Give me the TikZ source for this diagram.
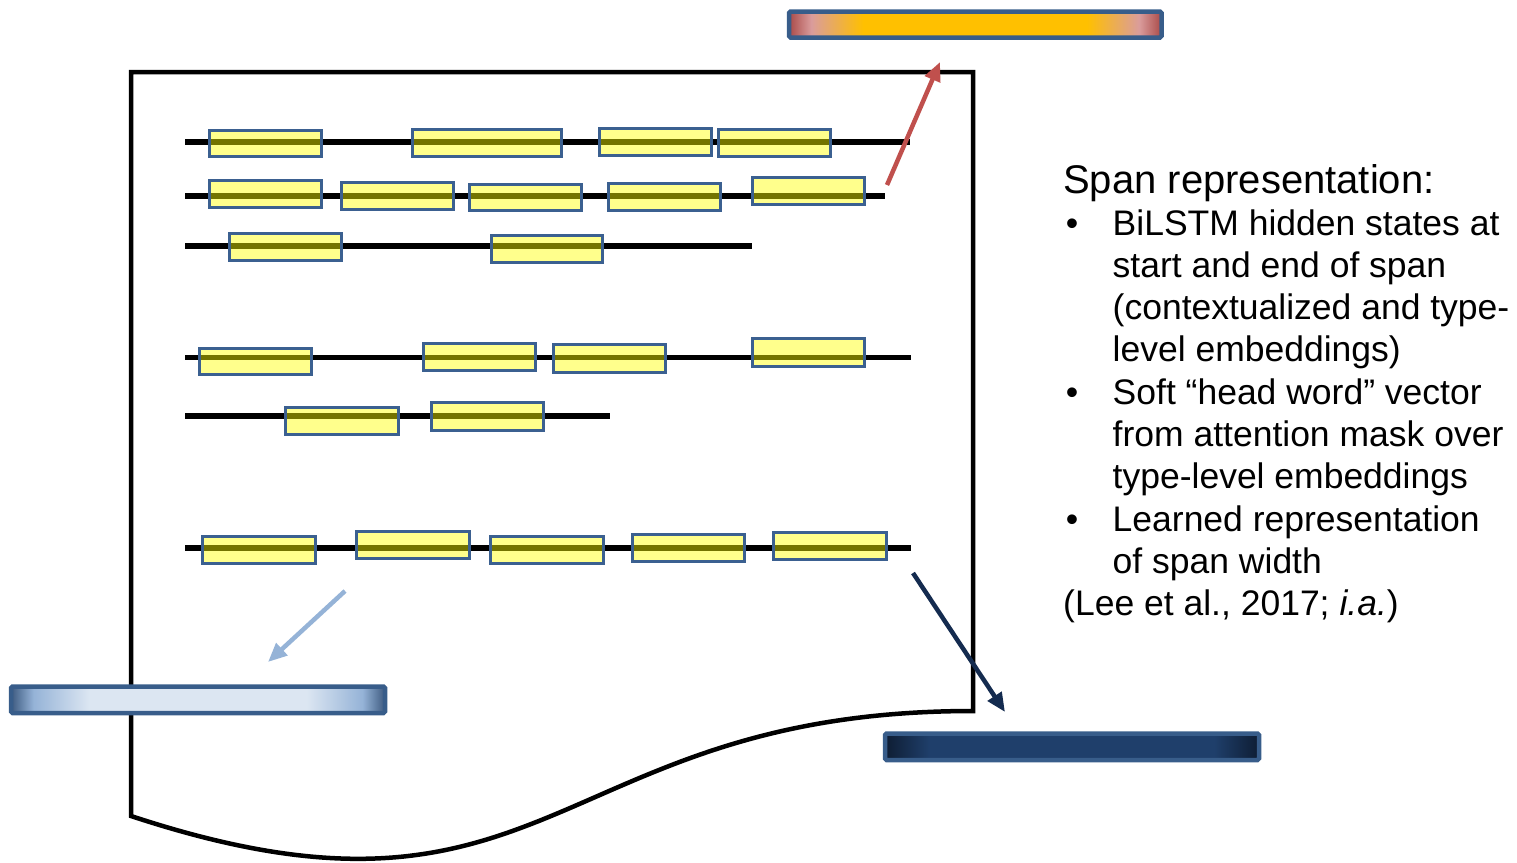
\documentclass[tikz,border=0pt]{standalone}
\usepackage{fontspec}
\setmainfont{Liberation Sans}
\usetikzlibrary{arrows.meta}
\definecolor{barblue}{HTML}{385D8A}
\definecolor{spanblue}{HTML}{3B6090}
\definecolor{redarrow}{HTML}{C0504D}
\definecolor{lbarrow}{HTML}{95B3D7}
\definecolor{navyarrow}{HTML}{142B4F}
\definecolor{gdr}{HTML}{A94A48}
\definecolor{gpk}{HTML}{DA9C9C}
\definecolor{ggold}{HTML}{FFC000}
\definecolor{ldark}{HTML}{3D5A80}
\definecolor{lmid}{HTML}{95B3D7}
\definecolor{llight}{HTML}{DCE6F2}
\definecolor{ddark}{HTML}{0E1D33}
\definecolor{dmid}{HTML}{1F3F6B}
\definecolor{spanyellow}{HTML}{FFFF00}
\pgfdeclarehorizontalshading{goldbar}{100bp}{color(0bp)=(gdr); color(25bp)=(gdr); color(28bp)=(gpk); color(35bp)=(ggold); color(65bp)=(ggold); color(72bp)=(gpk); color(75bp)=(gdr); color(100bp)=(gdr)}
\pgfdeclarehorizontalshading{lightbar}{100bp}{color(0bp)=(ldark); color(25bp)=(ldark); color(28bp)=(lmid); color(35.5bp)=(llight); color(64.5bp)=(llight); color(72bp)=(lmid); color(75bp)=(ldark); color(100bp)=(ldark)}
\pgfdeclarehorizontalshading{darkbar}{100bp}{color(0bp)=(ddark); color(25bp)=(ddark); color(31bp)=(dmid); color(69bp)=(dmid); color(75bp)=(ddark); color(100bp)=(ddark)}
\tikzset{
  docline/.style={draw=black, line width=4.5pt, line join=miter},
  tline/.style={draw=black, line width=5.5pt},
  spanbox/.style={draw=spanblue, line width=3pt, fill=spanyellow, fill opacity=0.45, draw opacity=1, inner sep=0pt, outer sep=0pt},
  barbox/.style={draw=barblue, line width=4.5pt, rounded corners=1.5pt, shade},
  arr/.style={line width=4.5pt, -{Triangle[length=19pt,width=16pt]}},
  txt/.style={anchor=base west, inner sep=0pt, font=\fontsize{35.5}{42}\selectfont},
  ttl/.style={anchor=base west, inner sep=0pt, font=\fontsize{40}{43}\selectfont},
  bul/.style={anchor=base, inner sep=0pt, font=\fontsize{35.5}{42}\selectfont}
}
\newcommand\spn[5]{\node[spanbox, minimum width={#3-#2}, minimum height={#5-#4}] (#1) at ({(#2+#3)/2},{(#4+#5)/2}) {};}
\begin{document}
\begin{tikzpicture}[x=1pt,y=-1pt]
\useasboundingbox (0,0) rectangle (1517,862);
% document outline
\path[docline] (131,72) -- (973,72) -- (973,711) .. controls (552,711) and (552,955) .. (131,816) -- cycle;
% text lines
\draw[tline] (185,142) -- (910,142);
\draw[tline] (185,196) -- (885,196);
\draw[tline] (185,246) -- (752,246);
\draw[tline] (185,357.5) -- (911,357.5);
\draw[tline] (185,416) -- (610,416);
\draw[tline] (185,548) -- (911,548);
% spans
\spn{s11}{209}{321}{130}{156}
\spn{s12}{412}{561}{129}{156}
\spn{s13}{599}{711}{128}{155}
\spn{s14}{718}{830}{129}{156}
\spn{s21}{209}{321}{180}{207}
\spn{s22}{341}{453}{182}{209}
\spn{s23}{469}{581}{184}{210}
\spn{s24}{608}{720}{183}{210}
\spn{s25}{752}{864}{177}{204}
\spn{s31}{229}{341}{233}{260}
\spn{s32}{491}{602}{235}{262}
\spn{s41}{199}{311}{348}{374}
\spn{s42}{423}{535}{343}{370}
\spn{s43}{553}{665}{344}{372}
\spn{s44}{752}{864}{338}{366}
\spn{s51}{285}{398}{407}{434}
\spn{s52}{431}{543}{402}{430}
\spn{s61}{202}{315}{536}{563}
\spn{s62}{356}{469}{531}{558}
\spn{s63}{490}{603}{536}{563}
\spn{s64}{632}{744}{534}{561}
\spn{s65}{773}{886}{532}{559}
% bars
\path[barbox, shading=goldbar] (789,11.5) rectangle (1161.5,37.5);
\path[barbox, shading=lightbar] (11,686.5) rectangle (385,713);
\path[barbox, shading=darkbar] (885,733.5) rectangle (1259,760);
% arrows
\coordinate (ra1) at (887,185);
\coordinate (ra2) at (940,62);
\coordinate (la1) at (345,591);
\coordinate (la2) at (268,662);
\coordinate (na1) at (913,573);
\coordinate (na2) at (1005,712);
\draw[arr, redarrow] (ra1) -- (ra2);
\draw[arr, lbarrow] (la1) -- (la2);
\draw[arr, navyarrow] (na1) -- (na2);
% text
\node[ttl] (t1) at (1063,193) {Span representation:};
\node[bul] (b1) at (1072,235) {•};
\node[txt] (t2) at (1112.5,235) {BiLSTM hidden states at};
\node[txt] (t3) at (1112.5,277.3) {start and end of span};
\node[txt] (t4) at (1112.5,319.6) {(contextualized and type-};
\node[txt] (t5) at (1112.5,361.9) {level embeddings)};
\node[bul] (b2) at (1072,404.2) {•};
\node[txt] (t6) at (1112.5,404.2) {Soft “head word” vector};
\node[txt] (t7) at (1112.5,446.5) {from attention mask over};
\node[txt] (t8) at (1112.5,488.8) {type-level embeddings};
\node[bul] (b3) at (1072,531.1) {•};
\node[txt] (t9) at (1112.5,531.1) {Learned representation};
\node[txt] (t10) at (1112.5,573.4) {of span width};
\node[txt] (t11) at (1063,615.7) {(Lee et al., 2017; \textit{i.a.})};
\end{tikzpicture}
\end{document}
